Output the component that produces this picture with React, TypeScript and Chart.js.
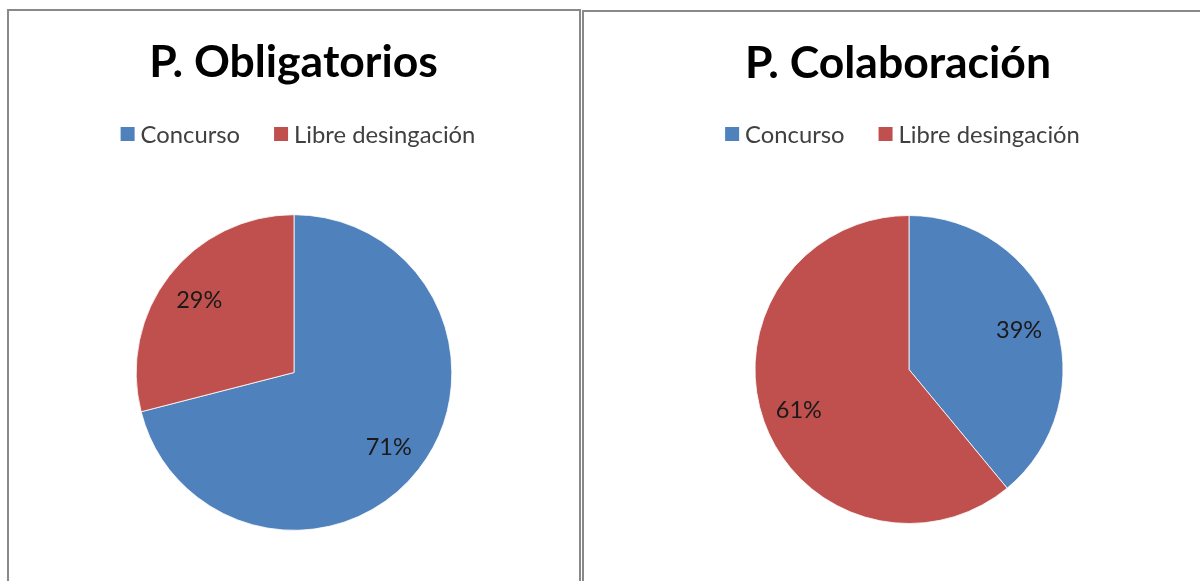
import React, { useEffect, useRef } from "react";
import { Chart, registerables } from "chart.js";

Chart.register(...registerables);

const categories = ["Concurso", "Libre desingación"];
const obligatoriosValues = [71, 29];
const colaboracionValues = [39, 61];
const chartTitles = ["P. Obligatorios", "P. Colaboración"];
const sliceColors = ["#4F81BD", "#C0504D"];

const FONT = "Lato, 'Open Sans', sans-serif";

const headerPlugin = {
  id: "header",
  afterDraw(chart: any, _args: any, opts: any) {
    const ctx = chart.ctx as CanvasRenderingContext2D;
    ctx.save();
    ctx.font = `bold ${opts.titleSize}px ${FONT}`;
    ctx.fillStyle = "#000";
    ctx.textAlign = "center";
    ctx.textBaseline = "alphabetic";
    ctx.fillText(opts.title, opts.titleX, opts.titleY);

    ctx.font = `${opts.legendSize}px ${FONT}`;
    const labels: string[] = chart.data.labels;
    const colors: string[] = chart.data.datasets[0].backgroundColor;
    const box = 14;
    const gap = 6;
    const itemGap = 34;
    const widths = labels.map((l) => ctx.measureText(l).width);
    const total =
      widths.reduce((a, w) => a + box + gap + w, 0) + itemGap * (labels.length - 1);
    let x = opts.legendX - total / 2;
    ctx.textAlign = "left";
    labels.forEach((l, i) => {
      ctx.fillStyle = colors[i];
      ctx.fillRect(x, opts.legendY - box / 2, box, box);
      x += box + gap;
      ctx.fillStyle = "#404040";
      ctx.textBaseline = "middle";
      ctx.fillText(l, x, opts.legendY + 1);
      x += widths[i] + itemGap;
    });
    ctx.restore();
  },
};

const labelPlugin = {
  id: "sliceLabels",
  afterDatasetsDraw(chart: any) {
    const ctx = chart.ctx as CanvasRenderingContext2D;
    const meta = chart.getDatasetMeta(0);
    const values: number[] = chart.data.datasets[0].data;
    ctx.save();
    ctx.font = `23.5px ${FONT}`;
    ctx.fillStyle = "#1a1a1a";
    ctx.textAlign = "center";
    ctx.textBaseline = "middle";
    meta.data.forEach((arc: any, i: number) => {
      const p = arc.getProps(["x", "y", "startAngle", "endAngle", "outerRadius"], true);
      const mid = (p.startAngle + p.endAngle) / 2;
      const r = p.outerRadius * 0.76;
      ctx.fillText(`${values[i]}%`, p.x + Math.cos(mid) * r, p.y + Math.sin(mid) * r + 1);
    });
    ctx.restore();
  },
};

type PanelProps = {
  values: number[];
  title: string;
  width: number;
  height: number;
  padding: { left: number; right: number; top: number; bottom: number };
  header: any;
};

function PieCanvas({ values, title, width, height, padding, header }: PanelProps) {
  const ref = useRef<HTMLCanvasElement | null>(null);
  useEffect(() => {
    if (!ref.current) return;
    const chart = new Chart(ref.current, {
      type: "pie",
      data: {
        labels: categories,
        datasets: [
          {
            data: values,
            backgroundColor: sliceColors,
            borderColor: "rgba(255,255,255,0.8)",
            borderWidth: 1,
          },
        ],
      },
      options: {
        animation: false,
        responsive: false,
        devicePixelRatio: 1,
        events: [],
        layout: { padding },
        plugins: {
          legend: { display: false },
          title: { display: false },
          tooltip: { enabled: false },
          header: { ...header, title },
        } as any,
      },
      plugins: [headerPlugin, labelPlugin],
    });
    return () => chart.destroy();
  }, []);
  return (
    <canvas
      ref={ref}
      width={width}
      height={height}
      style={{ position: "absolute", left: 0, top: 0, width, height }}
    />
  );
}

export default function App() {
  return (
    <div
      style={{
        position: "fixed",
        left: 0,
        top: 0,
        width: 1200,
        height: 581,
        overflow: "hidden",
        background: "#fff",
      }}
    >
      <div
        style={{
          position: "absolute",
          left: 7,
          top: 9,
          width: 570,
          height: 600,
          borderTop: "2px solid #898989",
          borderLeft: "2px solid #898989",
          borderRight: "2px solid #898989",
          overflow: "hidden",
        }}
      >
        <PieCanvas
          values={obligatoriosValues}
          title={chartTitles[0]}
          width={570}
          height={570}
          padding={{ left: 126.7, right: 126.7, top: 203, bottom: 50 }}
          header={{ titleSize: 44.5, titleX: 284.5, titleY: 66, legendSize: 23.8, legendX: 289, legendY: 123 }}
        />
      </div>
      <div
        style={{
          position: "absolute",
          left: 582,
          top: 10,
          width: 640,
          height: 600,
          borderTop: "2px solid #898989",
          borderLeft: "2px solid #898989",
          overflow: "hidden",
        }}
      >
        <PieCanvas
          values={colaboracionValues}
          title={chartTitles[1]}
          width={616}
          height={569}
          padding={{ left: 170.5, right: 136.5, top: 203, bottom: 57 }}
          header={{ titleSize: 44.5, titleX: 314, titleY: 66, legendSize: 23.8, legendX: 318.5, legendY: 122 }}
        />
      </div>
    </div>
  );
}
